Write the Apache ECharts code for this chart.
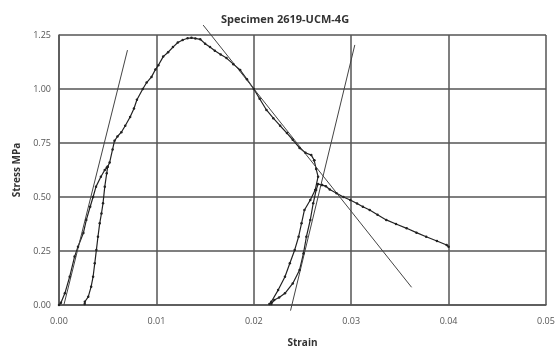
<!DOCTYPE html>
<html>
<head>
<meta charset="utf-8">
<script src="https://cdn.jsdelivr.net/npm/echarts@6/dist/echarts.min.js"></script>
<style>
  html, body { margin: 0; padding: 0; background: #fff; }
  #chart { width: 557px; height: 349px; }
</style>
</head>
<body>
<div id="chart"></div>
<script>
// strain / stress pairs
const loading1 = [
  [0, 0], [0.0002, 0.01], [0.0006, 0.054], [0.0011, 0.131], [0.0016, 0.224],
  [0.00195, 0.27], [0.0025, 0.333], [0.0028, 0.393], [0.0032, 0.455], [0.0035, 0.5],
  [0.0038, 0.548], [0.0043, 0.594], [0.0047, 0.625], [0.0049, 0.635]
];
const reload1 = [
  [0.00264, 0.005], [0.00265, 0.015], [0.003, 0.038], [0.0033, 0.085], [0.0035, 0.131],
  [0.00367, 0.193], [0.00384, 0.255], [0.004, 0.316], [0.00418, 0.378], [0.00436, 0.424],
  [0.00452, 0.471], [0.0047, 0.548], [0.0049, 0.61], [0.005, 0.64]
];
const mainCurve = [
  [0.005, 0.64], [0.0052, 0.66], [0.0055, 0.72], [0.0057, 0.76], [0.006, 0.78],
  [0.0064, 0.8], [0.0068, 0.83], [0.0073, 0.87], [0.0077, 0.91], [0.008, 0.95],
  [0.0086, 1.0], [0.009, 1.03], [0.0095, 1.056], [0.0099, 1.09], [0.0102, 1.11],
  [0.0107, 1.15], [0.0112, 1.17], [0.0117, 1.194], [0.0122, 1.215], [0.0127, 1.227],
  [0.0132, 1.235], [0.0136, 1.237], [0.014, 1.234], [0.0145, 1.23], [0.015, 1.21],
  [0.0155, 1.194], [0.016, 1.177], [0.0166, 1.16], [0.0172, 1.143], [0.0179, 1.115],
  [0.0186, 1.088], [0.0193, 1.045], [0.02, 1.0], [0.0206, 0.955], [0.0213, 0.903],
  [0.022, 0.865], [0.0227, 0.83], [0.0234, 0.796], [0.024, 0.765], [0.0247, 0.727],
  [0.0253, 0.705], [0.0259, 0.694], [0.0262, 0.67]
];
const unload2 = [
  [0.0262, 0.67], [0.0264, 0.63], [0.0266, 0.594], [0.0263, 0.532], [0.0258, 0.486],
  [0.0252, 0.44], [0.0249, 0.378], [0.0246, 0.316], [0.0242, 0.255], [0.0237, 0.193],
  [0.0232, 0.131], [0.0225, 0.069], [0.0218, 0.015], [0.0216, 0.005]
];
const reload2 = [
  [0.0218, 0.005], [0.0221, 0.023], [0.0226, 0.035], [0.0232, 0.054], [0.024, 0.1],
  [0.0247, 0.162], [0.0251, 0.239], [0.0254, 0.316], [0.0258, 0.394], [0.0261, 0.471],
  [0.0264, 0.532], [0.0266, 0.56], [0.027, 0.555]
];
const postPeak = [
  [0.027, 0.555], [0.0274, 0.55], [0.0278, 0.535], [0.0285, 0.517], [0.0292, 0.5],
  [0.0299, 0.486], [0.0306, 0.47], [0.0312, 0.455], [0.0319, 0.44], [0.0327, 0.418],
  [0.0336, 0.394], [0.0346, 0.375], [0.0357, 0.355], [0.0367, 0.335], [0.0377, 0.316],
  [0.0388, 0.296], [0.0398, 0.278], [0.04, 0.27]
];
// hand-drawn tangent lines (end points)
const tangentA = [[0.0005, 0], [0.00703, 1.18]];
const tangentB = [[0.0148, 1.296], [0.0362, 0.082]];
const tangentC = [[0.02377, -0.026], [0.03037, 1.204]];

const xTicks = { min: 0, max: 0.05, step: 0.01 };
const yTicks = { min: 0, max: 1.25, step: 0.25 };

const chart = echarts.init(document.getElementById('chart'));

const fontFamily = '"Open Sans", "Liberation Sans", sans-serif';
const ink = '#333';

function curve(data) {
  return {
    type: 'line',
    data: data,
    showSymbol: true,
    symbol: 'circle',
    symbolSize: 2.5,
    lineStyle: { color: '#222', width: 1.2 },
    itemStyle: { color: '#222' },
    animation: false,
    silent: true
  };
}

function tangent(data) {
  return {
    type: 'line',
    data: data,
    showSymbol: false,
    clip: false,
    lineStyle: { color: '#444', width: 1 },
    animation: false,
    silent: true
  };
}

const option = {
  backgroundColor: '#fff',
  title: {
    text: 'Specimen 2619-UCM-4G',
    left: 216,
    top: 9,
    textStyle: { fontFamily: fontFamily, fontSize: 11, fontWeight: 'bold', color: ink }
  },
  grid: { left: 59, right: 11, top: 35, bottom: 44, outerBoundsMode: 'none' },
  xAxis: {
    type: 'value',
    min: xTicks.min,
    max: xTicks.max,
    interval: xTicks.step,
    name: 'Strain',
    nameLocation: 'middle',
    nameGap: 33,
    nameTextStyle: { fontFamily: fontFamily, fontSize: 10, fontWeight: 'bold', color: ink },
    axisLine: { show: true, lineStyle: { color: '#555', width: 1.5 } },
    axisTick: { show: false },
    axisLabel: {
      margin: 12,
      fontFamily: fontFamily,
      fontSize: 9,
      color: '#555',
      formatter: v => v.toFixed(2)
    },
    splitLine: { show: true, lineStyle: { color: '#555', width: 1.5 } }
  },
  yAxis: {
    type: 'value',
    min: yTicks.min,
    max: yTicks.max,
    interval: yTicks.step,
    name: 'Stress MPa',
    nameLocation: 'middle',
    nameGap: 30,
    nameTextStyle: { fontFamily: fontFamily, fontSize: 10, fontWeight: 'bold', color: ink },
    axisLine: { show: true, lineStyle: { color: '#555', width: 1.5 } },
    axisTick: { show: false },
    axisLabel: {
      margin: 8,
      fontFamily: fontFamily,
      fontSize: 9,
      color: '#555',
      formatter: v => v.toFixed(2)
    },
    splitLine: { show: true, lineStyle: { color: '#555', width: 1.5 } }
  },
  series: [
    curve(loading1),
    curve(reload1),
    curve(mainCurve),
    curve(unload2),
    curve(reload2),
    curve(postPeak),
    tangent(tangentA),
    tangent(tangentB),
    tangent(tangentC)
  ]
};

chart.setOption(option);
</script>
</body>
</html>
